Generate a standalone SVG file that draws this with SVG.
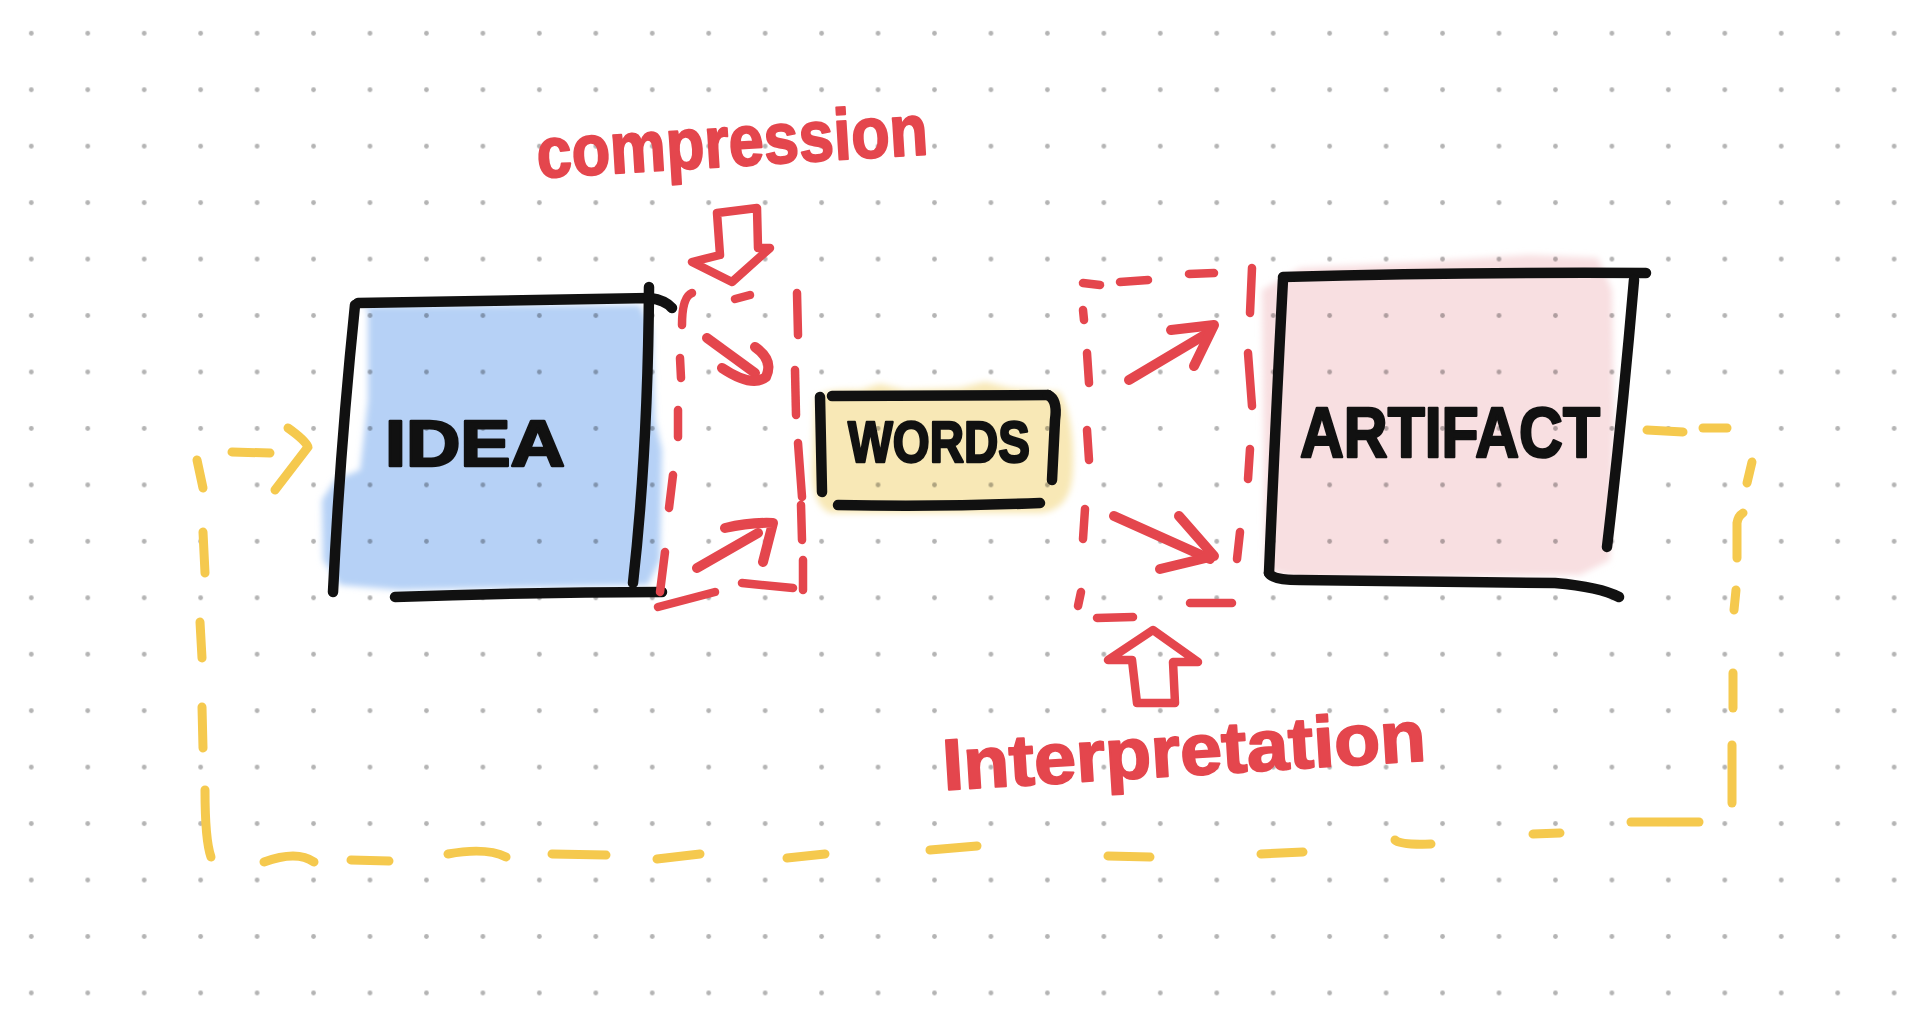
<svg xmlns="http://www.w3.org/2000/svg" width="1930" height="1018" viewBox="0 0 1930 1018">
<defs>
<pattern id="dots" patternUnits="userSpaceOnUse" x="3.08" y="5.08" width="56.45" height="56.45">
<circle cx="28.225" cy="28.225" r="2.4" fill="#b4b4b4"/>
</pattern>
<filter id="soft" x="-5%" y="-5%" width="110%" height="110%"><feGaussianBlur stdDeviation="3"/></filter>
<style>
.ink{fill:none;stroke:#111;stroke-width:10.5;stroke-linecap:round;stroke-linejoin:round}
.red{fill:none;stroke:#e4464d;stroke-width:8.5;stroke-linecap:round;stroke-linejoin:round}
.redarrow{fill:none;stroke:#e4464d;stroke-width:10;stroke-linecap:round;stroke-linejoin:round}
.yel{fill:none;stroke:#f5c94e;stroke-width:9;stroke-linecap:round;stroke-linejoin:round}
.fill{filter:url(#soft);mix-blend-mode:multiply}
.lbl{font-family:"Liberation Sans",Arial,sans-serif;font-weight:bold;fill:#111;stroke:#111;stroke-width:2.5;stroke-linejoin:round}
.note{font-family:"Liberation Sans",Arial,sans-serif;font-weight:bold;fill:#e4464d;stroke:#e4464d;stroke-width:2;stroke-linejoin:round}
</style>
</defs>
<rect width="1930" height="1018" fill="#ffffff"/>
<rect width="1930" height="1018" fill="url(#dots)"/>

<g id="idea">
<path class="fill" fill="#b6d1f6" d="M362,306 L640,305 L652,330 L655,420 L662,450 L660,560 L648,585 L400,590 L340,585 L323,560 L322,500 L335,480 L360,470 L368,400 L368,310 Z"/>
<path class="ink" d="M358,303 Q500,300 650,298 Q665,300 672,308"/>
<path class="ink" d="M649,287 Q648,450 633,583"/>
<path class="ink" d="M355,305 Q340,450 333,592"/>
<path class="ink" d="M395,597 Q530,592 662,592"/>
<text class="lbl" x="385" y="466" font-size="64" textLength="180" lengthAdjust="spacingAndGlyphs">IDEA</text>
</g>

<g id="words">
<path class="fill" fill="#f8e8b6" d="M815,400 Q820,388 860,390 L880,384 L905,390 L960,388 L985,382 L1010,388 L1060,392 Q1075,420 1073,470 Q1072,510 1040,513 L830,513 Q812,505 812,470 Z"/>
<path class="ink" d="M820,397 L822,492"/>
<path class="ink" d="M832,396 L1048,395"/>
<path class="ink" d="M1048,395 Q1058,400 1055,420 L1052,480"/>
<path class="ink" d="M838,505 Q940,507 1040,503"/>
<text class="lbl" x="848" y="462" font-size="58" textLength="182" lengthAdjust="spacingAndGlyphs">WORDS</text>
</g>

<g id="artifact">
<path class="fill" fill="#f8dfe1" d="M1262,290 L1300,268 L1420,262 L1530,255 L1598,258 L1612,290 L1614,420 L1610,560 L1580,575 L1300,578 L1265,570 Z"/>
<path class="ink" d="M1283,277 Q1460,272 1646,273"/>
<path class="ink" d="M1283,279 Q1275,430 1269,573"/>
<path class="ink" d="M1269,573 Q1272,580 1300,580 L1555,583 Q1600,587 1619,597"/>
<path class="ink" d="M1634,280 Q1622,420 1607,547"/>
<text class="lbl" x="1300" y="457" font-size="70" textLength="300" lengthAdjust="spacingAndGlyphs">ARTIFACT</text>
</g>

<g id="compression">
<text class="note" x="538" y="178" font-size="72" textLength="392" lengthAdjust="spacingAndGlyphs" transform="rotate(-3.5 538 178)">compression</text>
<path class="red" d="M717,213 L757,208 L758,248 L770,248 L732,282 L692,262 L720,255 Z"/>
<g id="compression-frame">
<path class="red" d="M692,293 Q682,297 682,325"/>
<path class="red" d="M680,358 L681,378"/>
<path class="red" d="M678,410 L678,437"/>
<path class="red" d="M673,475 L669,508"/>
<path class="red" d="M665,552 L660,592"/>
<path class="red" d="M735,299 L750,295"/>
<path class="red" d="M797,293 L798,335"/>
<path class="red" d="M795,370 L796,415"/>
<path class="red" d="M798,443 L802,497"/>
<path class="red" d="M801,505 L802,540"/>
<path class="red" d="M803,560 L803,590"/>
<path class="red" d="M658,607 L715,592"/>
<path class="red" d="M742,583 L793,588"/>
</g>
</g>

<g id="interpretation">
<text class="note" x="944" y="790" font-size="72" textLength="484" lengthAdjust="spacingAndGlyphs" transform="rotate(-3.5 944 790)">Interpretation</text>
<path class="red" d="M1137,703 L1175,703 L1173,662 L1198,662 L1153,630 L1108,660 L1132,660 Z"/>
<g id="interpretation-frame">
<path class="red" d="M1083,283 L1100,285"/>
<path class="red" d="M1120,282 L1148,280"/>
<path class="red" d="M1189,274 L1214,273"/>
<path class="red" d="M1083,310 L1084,320"/>
<path class="red" d="M1087,353 L1089,383"/>
<path class="red" d="M1087,430 L1089,460"/>
<path class="red" d="M1085,509 L1083,539"/>
<path class="red" d="M1081,592 L1078,606"/>
<path class="red" d="M1252,268 L1250,313"/>
<path class="red" d="M1248,353 L1252,406"/>
<path class="red" d="M1250,449 L1248,479"/>
<path class="red" d="M1240,532 L1237,559"/>
<path class="red" d="M1097,618 L1133,617"/>
<path class="red" d="M1190,603 L1232,603"/>
</g>
</g>

<g id="connectors">
<path class="redarrow" d="M707,338 L755,373"/>
<path class="redarrow" d="M722,368 Q752,388 766,377 Q774,360 755,347"/>
<path class="redarrow" d="M697,568 L758,533"/>
<path class="redarrow" d="M725,528 Q750,522 773,523 L763,562"/>
<path class="redarrow" d="M1129,380 L1208,333"/>
<path class="redarrow" d="M1171,330 L1214,325 L1194,366"/>
<path class="redarrow" d="M1114,516 L1210,559"/>
<path class="redarrow" d="M1179,516 L1214,556 L1160,569"/>
<g id="feedback-loop">
<path class="yel" d="M232,452 L270,453"/>
<path class="yel" d="M288,428 Q305,440 308,447 L275,490"/>
<path class="yel" d="M197,460 L203,488"/>
<path class="yel" d="M203,532 L205,573"/>
<path class="yel" d="M200,622 L202,658"/>
<path class="yel" d="M202,707 L203,748"/>
<path class="yel" d="M205,790 Q205,840 211,857"/>
<path class="yel" d="M264,862 Q297,850 314,862"/>
<path class="yel" d="M351,860 L389,861"/>
<path class="yel" d="M448,854 Q486,847 506,857"/>
<path class="yel" d="M552,854 L606,855"/>
<path class="yel" d="M657,859 L700,854"/>
<path class="yel" d="M787,858 L825,854"/>
<path class="yel" d="M930,850 L977,846"/>
<path class="yel" d="M1108,856 L1150,857"/>
<path class="yel" d="M1261,854 L1303,852"/>
<path class="yel" d="M1395,840 Q1400,845 1431,844"/>
<path class="yel" d="M1533,834 L1560,833"/>
<path class="yel" d="M1631,822 L1699,822"/>
<path class="yel" d="M1732,803 L1732,745"/>
<path class="yel" d="M1733,708 L1733,673"/>
<path class="yel" d="M1734,610 L1736,590"/>
<path class="yel" d="M1737,558 L1737,523 Q1738,516 1743,513"/>
<path class="yel" d="M1747,483 L1752,462"/>
<path class="yel" d="M1727,428 L1703,428"/>
<path class="yel" d="M1683,432 L1647,430" stroke-width="11"/>
</g>
</g>
</svg>
